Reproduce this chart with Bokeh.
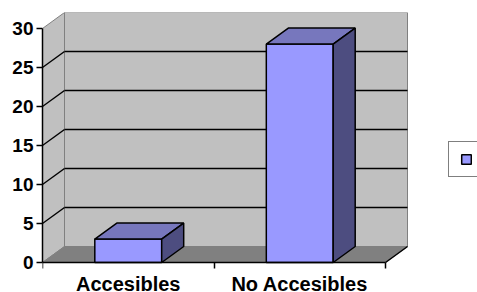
from bokeh.plotting import figure
from bokeh.models import Range1d, LinearAxis, FixedTicker, Legend, LegendItem, ColumnDataSource
from bokeh.embed import file_html
from bokeh.resources import INLINE

# ---- data ----
categories = ["Accesibles", "No Accesibles"]
values = [3, 28]
y_ticks = [0, 5, 10, 15, 20, 25, 30]
series_name = " "

# ---- 3D look parameters (data units) ----
DX = 0.1283   # depth offset along x
DY = 2.051    # depth offset along y
BAR_W = 0.39
YMAX = y_ticks[-1]
N = len(categories)

FONT = "Liberation Sans"

p = figure(width=477, height=292,
           x_range=Range1d(0, 2.5364), y_range=Range1d(-3.846, 32.05),
           output_backend="svg", toolbar_location=None,
           x_axis_location=None, y_axis_location=None,
           min_border_left=42, min_border_right=0,
           min_border_top=12, min_border_bottom=0)
p.outline_line_color = None
p.background_fill_color = "white"
p.border_fill_color = "white"
for g in p.grid:
    g.visible = False

# back wall
p.quad(left=[DX], right=[N + DX], bottom=[DY], top=[YMAX + DY],
       fill_color="#C0C0C0", line_color="#808080", line_width=1)
# left wall
p.patch(x=[0, DX, DX, 0], y=[0, DY, YMAX + DY, YMAX],
        fill_color="#C0C0C0", line_color="#808080", line_width=1)
# floor
p.patch(x=[0, N, N + DX, DX], y=[0, 0, DY, DY],
        fill_color="#808080", line_color="#808080", line_width=1)
p.line(x=[N, N + DX], y=[0, DY], line_color="black", line_width=1.5)

# gridlines on back wall and left wall
gt = [t for t in y_ticks if 0 < t < YMAX]
p.segment(x0=[DX] * len(gt), y0=[t + DY for t in gt],
          x1=[N + DX] * len(gt), y1=[t + DY for t in gt],
          line_color="black", line_width=1.4)
p.segment(x0=[0] * len(gt), y0=gt,
          x1=[DX] * len(gt), y1=[t + DY for t in gt],
          line_color="black", line_width=1.4)

# bars
centers = [i + 0.5 for i in range(N)]
lefts = [c - BAR_W / 2 for c in centers]
rights = [c + BAR_W / 2 for c in centers]
src = ColumnDataSource(dict(left=lefts, right=rights, top=values, bottom=[0] * N))
front = p.quad(left="left", right="right", bottom="bottom", top="top", source=src,
               fill_color="#9999FF", line_color="black", line_width=1.5)
top_xs = [[l, r, r + DX, l + DX] for l, r in zip(lefts, rights)]
top_ys = [[v, v, v + DY, v + DY] for v in values]
p.patches(xs=top_xs, ys=top_ys, fill_color="#7777BD", line_color="black", line_width=1.5)
side_xs = [[r, r + DX, r + DX, r] for r in rights]
side_ys = [[0, DY, v + DY, v] for v in values]
p.patches(xs=side_xs, ys=side_ys, fill_color="#4D4D80", line_color="black", line_width=1.5)

# y axis
yaxis = LinearAxis(ticker=FixedTicker(ticks=y_ticks), bounds=(0, YMAX),
                   major_tick_out=6, major_tick_in=0, minor_tick_out=0, minor_tick_in=0,
                   major_label_standoff=3,
                   axis_line_color="black", axis_line_width=1.5,
                   major_tick_line_color="black", major_tick_line_width=1.5,
                   major_label_text_font=FONT, major_label_text_font_style="bold",
                   major_label_text_font_size="19px", major_label_text_color="black")
p.add_layout(yaxis, "left")

# x axis (category labels)
xaxis = LinearAxis(ticker=FixedTicker(ticks=centers, minor_ticks=list(range(N + 1))),
                   fixed_location=0, bounds=(0, N),
                   major_tick_out=0, major_tick_in=0, minor_tick_out=6, minor_tick_in=0,
                   major_label_overrides={c: lab for c, lab in zip(centers, categories)},
                   major_label_standoff=4,
                   axis_line_color="black", axis_line_width=1.5,
                   minor_tick_line_color="black", minor_tick_line_width=1.5,
                   major_label_text_font=FONT, major_label_text_font_style="bold",
                   major_label_text_font_size="20px", major_label_text_color="black")
p.add_layout(xaxis, "below")

legend = Legend(items=[LegendItem(label=series_name, renderers=[front])],
                location=(406, 115), padding=11, margin=0,
                glyph_width=12, glyph_height=12, label_width=60,
                label_text_font_size="10px", label_standoff=5,
                border_line_color="black", border_line_width=1,
                background_fill_color="white", background_fill_alpha=1)
p.add_layout(legend)

open("out.html", "w").write(file_html(p, INLINE))
